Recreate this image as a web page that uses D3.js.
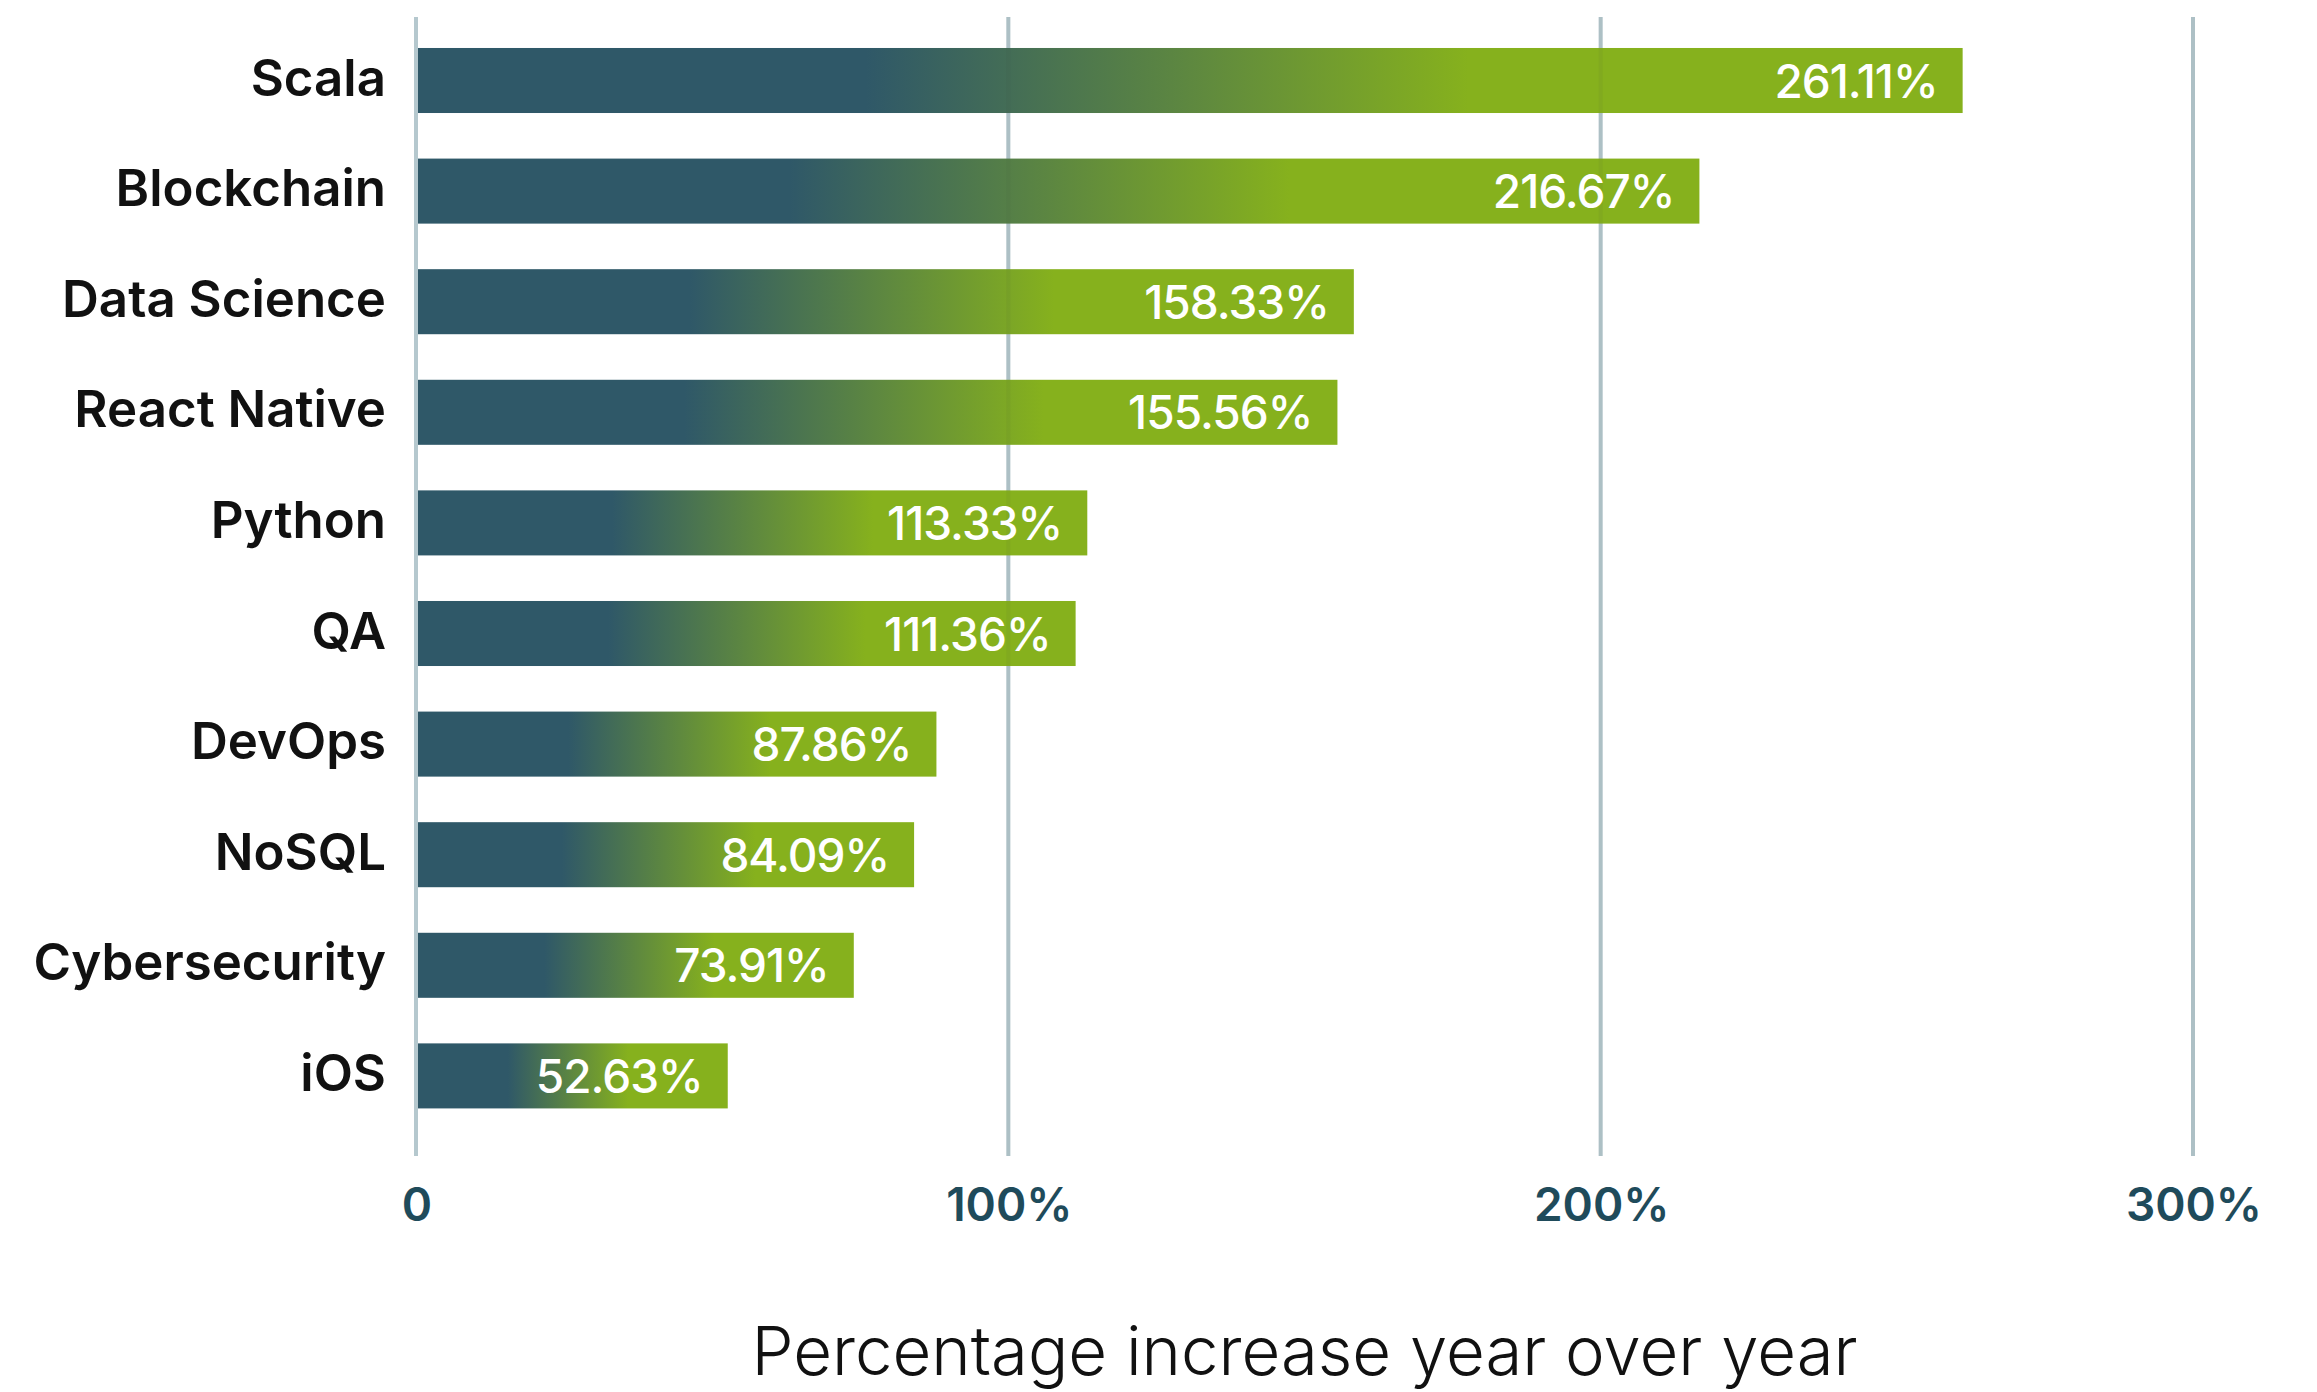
<!DOCTYPE html>
<html>
<head>
<meta charset="utf-8">
<script src="https://cdn.jsdelivr.net/npm/d3@7"></script>
<style>
  html, body { margin: 0; padding: 0; background: #ffffff; }
  svg { display: block; }
</style>
</head>
<body>
<svg id="chart" width="2317" height="1392"></svg>
<script>
// Skills with the fastest year-over-year growth
const categories = ["Scala", "Blockchain", "Data Science", "React Native", "Python",
                    "QA", "DevOps", "NoSQL", "Cybersecurity", "iOS"];
const growth = [261.11, 216.67, 158.33, 155.56, 113.33, 111.36, 87.86, 84.09, 73.91, 52.63];
const tickValues = [0, 100, 200, 300];
const tickLabels = ["0", "100%", "200%", "300%"];
const axisTitle = "Percentage increase year over year";

const svg = d3.select("#chart");
const FONT = "Inter, 'Noto Sans', sans-serif";

const x = d3.scaleLinear().domain([0, 300]).range([416, 2193]);
const y = d3.scaleBand().domain(categories).range([25.2, 1131.2])
  .paddingInner(0.412).paddingOuter(0.206);

// Gradient running from slate teal into lime green along each bar
const defs = svg.append("defs");
const grad = defs.append("linearGradient")
  .attr("id", "barGrad")
  .attr("x1", "0").attr("y1", "0").attr("x2", "1").attr("y2", "0");
[[0, "#2f5868"], [0.29, "#2f5868"], [0.68, "#86b11d"], [1, "#86b11d"]].forEach(([o, c]) => {
  grad.append("stop").attr("offset", o).attr("stop-color", c);
});

// Vertical gridlines
svg.append("g").selectAll("line")
  .data(tickValues)
  .join("line")
  .attr("x1", d => x(d)).attr("x2", d => x(d))
  .attr("y1", 17).attr("y2", 1156)
  .attr("stroke", "#b5c8ce")
  .attr("stroke-width", 4);

// Bars
svg.append("g").selectAll("rect")
  .data(categories)
  .join("rect")
  .attr("x", x(0) + 2)
  .attr("y", d => y(d))
  .attr("width", (d, i) => x(growth[i]) - x(0) - 2)
  .attr("height", y.bandwidth())
  .attr("fill", "url(#barGrad)");

// Faint gridline traces over the bars
svg.append("g").selectAll("line")
  .data(tickValues.slice(1))
  .join("line")
  .attr("x1", d => x(d)).attr("x2", d => x(d))
  .attr("y1", 17).attr("y2", 1156)
  .attr("stroke", "#2c4a44")
  .attr("stroke-opacity", 0.06)
  .attr("stroke-width", 4);

// Value labels inside the bars
svg.append("g").selectAll("text")
  .data(categories)
  .join("text")
  .attr("x", (d, i) => x(growth[i]) - 25)
  .attr("y", d => y(d) + y.bandwidth() / 2 + 17)
  .attr("text-anchor", "end")
  .attr("font-family", FONT)
  .attr("font-weight", 500)
  .attr("font-size", 46)
  .attr("letter-spacing", -1)
  .attr("fill", "#ffffff")
  .text((d, i) => growth[i].toFixed(2) + "%");

// Category labels
svg.append("g").selectAll("text")
  .data(categories)
  .join("text")
  .attr("x", 386)
  .attr("y", d => y(d) + y.bandwidth() / 2 + 15)
  .attr("text-anchor", "end")
  .attr("font-family", FONT)
  .attr("font-weight", 600)
  .attr("font-size", 51)
  .attr("fill", "#111111")
  .text(d => d);

// X axis tick labels
svg.append("g").selectAll("text")
  .data(tickValues)
  .join("text")
  .attr("x", d => x(d) + 1)
  .attr("y", 1221)
  .attr("text-anchor", "middle")
  .attr("font-family", FONT)
  .attr("font-weight", 600)
  .attr("font-size", 46)
  .attr("fill", "#1f4b5b")
  .text((d, i) => tickLabels[i]);

// Axis title
svg.append("text")
  .attr("x", (x(0) + x(300)) / 2)
  .attr("y", 1375)
  .attr("text-anchor", "middle")
  .attr("font-family", FONT)
  .attr("font-weight", 300)
  .attr("font-size", 67)
  .attr("fill", "#111111")
  .text(axisTitle);
</script>
</body>
</html>
